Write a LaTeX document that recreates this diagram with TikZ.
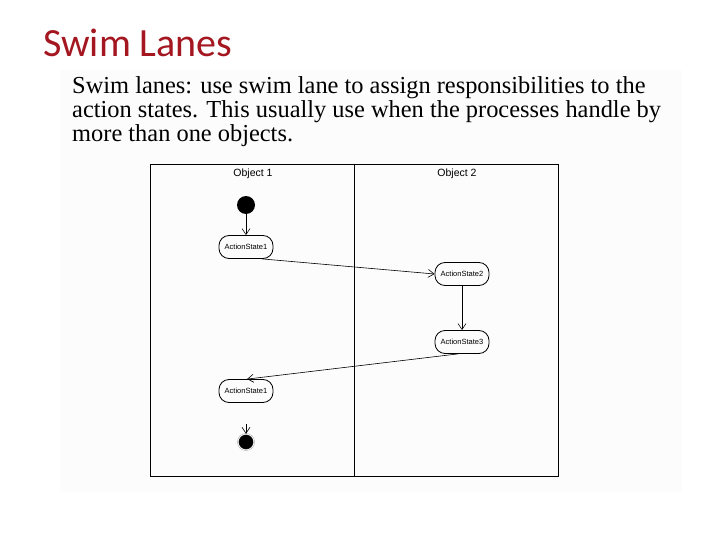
\documentclass[tikz,border=0pt]{standalone}
\usepackage{fontspec}
\setmainfont{Liberation Serif}
\newfontfamily\titlefont{Carlito}
\newfontfamily\umlfont{Liberation Sans}
\usetikzlibrary{arrows.meta,positioning}
\definecolor{TitleRed}{RGB}{164,22,32}
\definecolor{PanelGray}{RGB}{252,252,252}
\tikzset{
  state/.style={draw,thick,rectangle,rounded corners=10pt,
                minimum width=54pt,minimum height=23pt,inner sep=1pt,
                font=\umlfont\fontsize{7.5}{9}\selectfont},
  lane/.style={font=\umlfont\fontsize{10.5}{12}\selectfont},
  flow/.style={-{Straight Barb[length=6pt,width=8pt]},semithick},
}

\begin{document}
\begin{tikzpicture}[x=1pt,y=-1pt]
\useasboundingbox (0,0) rectangle (720,540);
\fill[white] (0,0) rectangle (720,540);
\fill[PanelGray] (60,70) rectangle (682,492);

% title and text
\node[anchor=base west,text=TitleRed,inner sep=0pt,
      font=\titlefont\fontsize{40}{48}\selectfont] (title) at (43,57) {Swim Lanes};
\node[anchor=north west,inner sep=0pt,align=left,
      font=\fontsize{24.4}{24}\selectfont] (intro) at (72,76)
  {Swim lanes: use swim lane to assign responsibilities to the\\
   action states. This usually use when the processes handle by\\
   more than one objects.};

% lanes
\draw[thick] (150,164) rectangle (558,476);
\draw[thick] (354,164) -- (354,476);
\node[lane] (obj1) at (253,174) {Object 1};
\node[lane] (obj2) at (457,174) {Object 2};

% states
\node[circle,fill=black,minimum size=18pt,inner sep=0pt] (start) at (246,205) {};
\node[state] (as1) at (246,247) {ActionState1};
\node[state] (as2) at (462,274) {ActionState2};
\node[state] (as3) at (462,342) {ActionState3};
\node[state] (as4) at (246,391) {ActionState1};
\node[circle,fill=black,draw=black!40,double=white,double distance=0.6pt,
      minimum size=16pt,inner sep=0pt] (final) at (246,442) {};
\coordinate (stub) at (246,424);

\draw[flow] (start) -- (as1);
\draw[flow] ([xshift=16pt]as1.south) -- (as2.west);
\draw[flow] (as2) -- (as3);
\draw[flow] ([xshift=-4pt]as3.south) -- ([xshift=1pt]as4.north);
\draw[flow] (stub) -- (final);
\end{tikzpicture}
\end{document}
